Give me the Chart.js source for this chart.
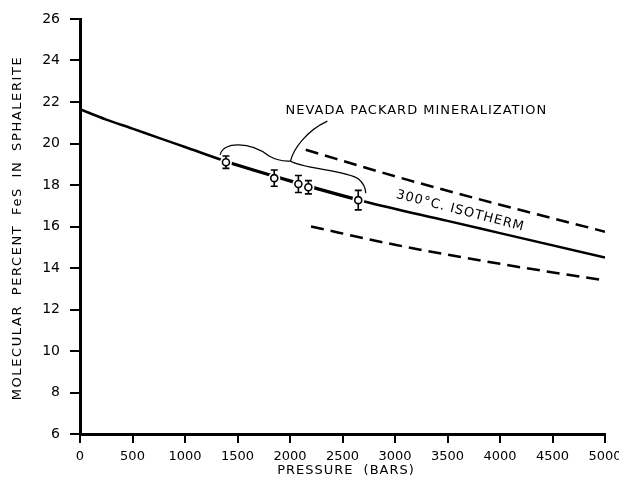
<!DOCTYPE html>
<html lang="en">
<head>
  <meta charset="UTF-8">
  <title>FeS in sphalerite vs pressure</title>
  <script src="https://cdn.jsdelivr.net/npm/chart.js"></script>
  <style>
    body {
      margin: 0;
      background: #fff;
    }
    #wrap {
      width: 619px;
      height: 492px;
    }
  </style>
</head>
<body>
  <div id="wrap"><canvas id="chart" width="619" height="492"></canvas></div>

  <script>
    // 300 C isotherm
    const isoP = [0, 250, 500, 750, 1000, 1400, 2000, 2700, 3500, 4000, 5000];
    const isoFeS = [21.65, 21.15, 20.72, 20.27, 19.83, 19.12, 18.2, 17.22, 16.27, 15.68, 14.5];

    // dashed envelope lines
    const upperP = [2150, 3000, 4000, 5000];
    const upperFeS = [19.7, 18.42, 17.05, 15.75];
    const lowerP = [2200, 3000, 4000, 5000];
    const lowerFeS = [16.0, 15.12, 14.2, 13.4];

    // Nevada Packard samples
    const sampleP = [1390, 1850, 2080, 2175, 2650];
    const sampleFeS = [19.1, 18.33, 18.05, 17.89, 17.27];
    const sampleErr = [0.3, 0.39, 0.41, 0.32, 0.47];

    const xTicks = [0, 500, 1000, 1500, 2000, 2500, 3000, 3500, 4000, 4500, 5000];
    const yTicks = [6, 8, 10, 12, 14, 16, 18, 20, 22, 24, 26];

    const FONT = "'DejaVu Sans', sans-serif";

    function pts(xs, ys) {
      return xs.map((v, i) => ({ x: v, y: ys[i] }));
    }

    const annotations = {
      id: 'annotations',
      afterDatasetsDraw(chart) {
        const ctx = chart.ctx;
        const xs = chart.scales.x, ys = chart.scales.y;
        const px = v => xs.getPixelForValue(v);
        const py = v => ys.getPixelForValue(v);
        ctx.save();

        // sample points with error bars
        sampleP.forEach((p, i) => {
          const cx = px(p), cy = py(sampleFeS[i]);
          ctx.fillStyle = '#fff';
          ctx.beginPath();
          ctx.arc(cx, cy, 6, 0, Math.PI * 2);
          ctx.fill();
          const top = py(sampleFeS[i] + sampleErr[i]);
          const bot = py(sampleFeS[i] - sampleErr[i]);
          ctx.strokeStyle = '#000';
          ctx.lineWidth = 1.6;
          ctx.beginPath();
          ctx.moveTo(cx, top); ctx.lineTo(cx, bot);
          ctx.moveTo(cx - 3.5, top); ctx.lineTo(cx + 3.5, top);
          ctx.moveTo(cx - 3.5, bot); ctx.lineTo(cx + 3.5, bot);
          ctx.stroke();
          ctx.beginPath();
          ctx.arc(cx, cy, 3.5, 0, Math.PI * 2);
          ctx.fill();
          ctx.stroke();
        });

        // brace to the label
        ctx.lineWidth = 1.2;
        ctx.beginPath();
        ctx.moveTo(px(1335), py(19.45));
        ctx.bezierCurveTo(px(1360), py(20.1), px(1620), py(20.1), px(1800), py(19.4));
        ctx.quadraticCurveTo(px(1900), py(19.12), px(2005), py(19.16));
        ctx.moveTo(px(2005), py(19.16));
        ctx.bezierCurveTo(px(2030), py(19.7), px(2150), py(20.6), px(2356), py(21.08));
        ctx.moveTo(px(2005), py(19.16));
        ctx.bezierCurveTo(px(2100), py(18.8), px(2550), py(18.7), px(2650), py(18.3));
        ctx.quadraticCurveTo(px(2720), py(18.0), px(2722), py(17.6));
        ctx.stroke();

        ctx.fillStyle = '#000';
        ctx.font = '13px ' + FONT;
        ctx.letterSpacing = '1px';
        ctx.textBaseline = 'middle';
        ctx.textAlign = 'left';
        ctx.fillText('NEVADA PACKARD MINERALIZATION', px(1957), py(21.6));

        ctx.translate(px(3622), py(16.75));
        ctx.rotate(14.5 * Math.PI / 180);
        ctx.font = '13px ' + FONT;
        ctx.textAlign = 'center';
        ctx.fillText('300°C. ISOTHERM', 0, 0);
        ctx.restore();
      },
      afterDraw(chart) {
        const ctx = chart.ctx;
        ctx.save();
        ctx.fillStyle = '#000';
        ctx.font = '13px ' + FONT;
        ctx.letterSpacing = '1px';
        ctx.wordSpacing = '5px';
        ctx.textAlign = 'center';
        ctx.textBaseline = 'middle';
        ctx.fillText('PRESSURE (BARS)', 346, 471);
        ctx.letterSpacing = '1.6px';
        ctx.wordSpacing = '4px';
        ctx.translate(18, 228);
        ctx.rotate(-Math.PI / 2);
        ctx.fillText('MOLECULAR PERCENT FeS IN SPHALERITE', 0, 0);
        ctx.restore();
      }
    };

    new Chart(document.getElementById('chart'), {
      type: 'scatter',
      data: {
        datasets: [
          {
            data: pts(isoP, isoFeS),
            showLine: true,
            borderColor: '#000',
            borderWidth: 2.5,
            pointRadius: 0,
            cubicInterpolationMode: 'monotone',
            segment: {
              borderWidth: c => (c.p0.parsed.x >= 1400 && c.p1.parsed.x <= 2700 ? 3.2 : 2.5)
            }
          },
          {
            data: pts(upperP, upperFeS),
            showLine: true,
            borderColor: '#000',
            borderWidth: 2.5,
            borderDash: [13, 7],
            pointRadius: 0,
            cubicInterpolationMode: 'monotone'
          },
          {
            data: pts(lowerP, lowerFeS),
            showLine: true,
            borderColor: '#000',
            borderWidth: 2.5,
            borderDash: [13, 7],
            pointRadius: 0,
            cubicInterpolationMode: 'monotone'
          }
        ]
      },
      options: {
        responsive: false,
        animation: false,
        layout: { padding: { top: 19, right: 14 } },
        plugins: {
          legend: { display: false },
          tooltip: { enabled: false }
        },
        scales: {
          x: {
            type: 'linear',
            min: 0,
            max: 5000,
            afterBuildTicks: s => { s.ticks = xTicks.map(v => ({ value: v })); },
            afterFit: s => { s.height = 58; s.paddingLeft = 0; s.paddingRight = 0; },
            ticks: { color: '#000', font: { family: FONT, size: 13 }, padding: 6, maxRotation: 0, autoSkip: false, callback: v => String(v) },
            grid: { drawOnChartArea: false, drawTicks: true, tickLength: 9, color: '#000', lineWidth: 2 },
            border: { color: '#000', width: 3 }
          },
          y: {
            type: 'linear',
            min: 6,
            max: 26,
            afterBuildTicks: s => { s.ticks = yTicks.map(v => ({ value: v })); },
            afterFit: s => { s.width = 80; s.paddingTop = 0; s.paddingBottom = 0; },
            ticks: { color: '#000', font: { family: FONT, size: 14 }, padding: 10, autoSkip: false, callback: v => String(v) },
            grid: { drawOnChartArea: false, drawTicks: true, tickLength: 10, color: '#000', lineWidth: 2 },
            border: { color: '#000', width: 3 }
          }
        }
      },
      plugins: [annotations]
    });
  </script>
</body>
</html>
